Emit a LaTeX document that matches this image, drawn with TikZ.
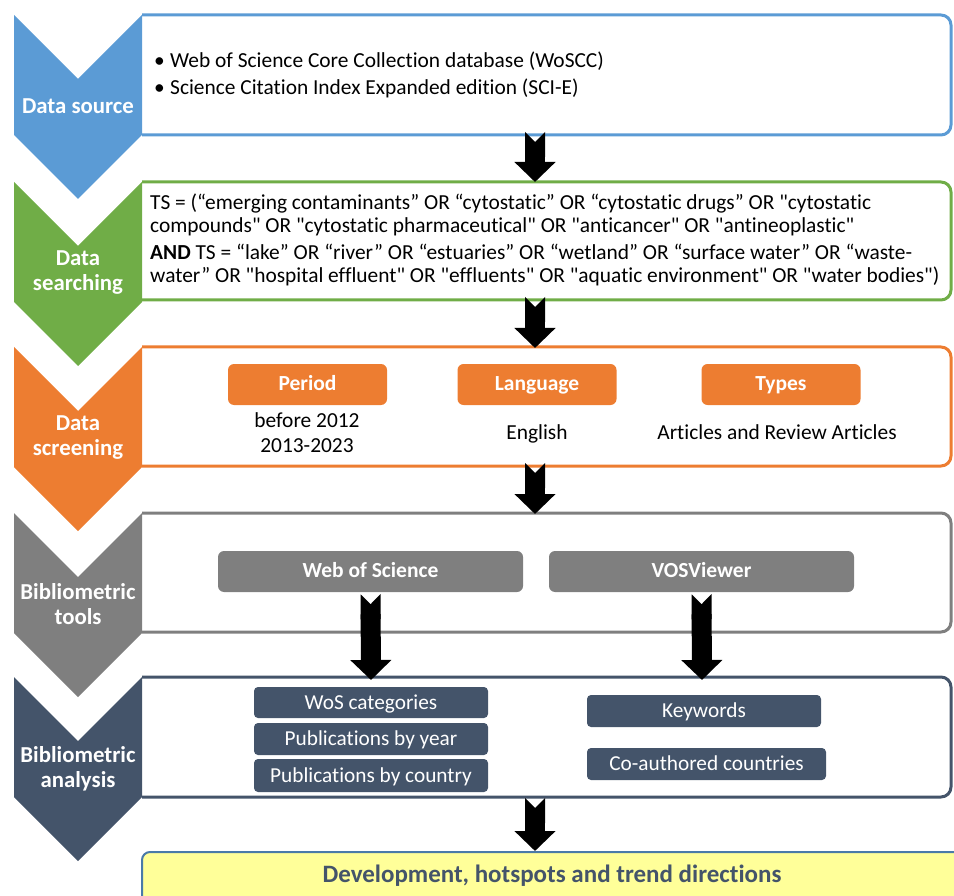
\documentclass[tikz,border=0pt]{standalone}
\usepackage{fontspec}
\setmainfont{Carlito}[Ligatures={TeXOff,CommonOff}]
\usetikzlibrary{arrows.meta, positioning}

\definecolor{srcblue}{HTML}{5B9BD5}
\definecolor{srchgreen}{HTML}{70AD47}
\definecolor{scrorange}{HTML}{ED7D31}
\definecolor{toolgray}{HTML}{7F7F7F}
\definecolor{anavy}{HTML}{44546A}
\definecolor{hotyellow}{HTML}{FFFF99}
\definecolor{edgeblue}{HTML}{4A7AA8}

\tikzset{
  stage/.style={draw=#1, line width=3pt, rounded corners=10pt},
  chevlabel/.style={text=white, align=center, inner sep=0pt,
    font=\fontsize{22.8}{25}\selectfont\bfseries},
  bodytext/.style={anchor=base west, inner sep=0pt,
    font=\fontsize{21.4}{23}\selectfont},
  undertext/.style={anchor=base, inner sep=0pt,
    font=\fontsize{21.4}{23}\selectfont},
  tagbox/.style={fill=#1, rounded corners=6pt, text=white, inner sep=0pt,
    text height=15pt, text depth=3pt, font=\fontsize{21.5}{23}\selectfont\bfseries},
  resultbox/.style={fill=anavy, rounded corners=4pt, text=white, inner sep=0pt,
    text height=15pt, text depth=2pt, font=\fontsize{21.3}{23}\selectfont},
  flow/.style={line width=20pt, {Triangle Cap[reversed]}-{Triangle[width=40pt,length=20pt]}}
}

\begin{document}
\begin{tikzpicture}[x=1pt, y=-1pt]
\useasboundingbox (0,0) rectangle (954,896);
\clip (0,0) rectangle (954,896);

% caixas das etapas
\draw[stage=srcblue]   (142,15)  -- (951,15)  -- (951,135) -- (142,135);
\draw[stage=srchgreen] (142,182) -- (951,182) -- (951,300) -- (142,300);
\draw[stage=scrorange] (142,347) -- (951,347) -- (951,466) -- (142,466);
\draw[stage=toolgray]  (142,513) -- (951,513) -- (951,632) -- (142,632);
\draw[stage=anavy]     (142,677) -- (951,677) -- (951,797) -- (142,797);

% chevrons
\fill[srcblue]   (14,15)  -- (78,79)  -- (142,15)  -- (142,135) -- (78,199) -- (14,135) -- cycle;
\fill[srchgreen] (14,182) -- (78,246) -- (142,182) -- (142,302) -- (78,366) -- (14,302) -- cycle;
\fill[scrorange] (14,347) -- (78,411) -- (142,347) -- (142,467) -- (78,531) -- (14,467) -- cycle;
\fill[toolgray]  (14,513) -- (78,577) -- (142,513) -- (142,633) -- (78,697) -- (14,633) -- cycle;
\fill[anavy]     (14,677) -- (78,741) -- (142,677) -- (142,797) -- (78,861) -- (14,797) -- cycle;

% rotulos dos chevrons
\node[chevlabel] (source)    at (78,106) {Data source};
\node[chevlabel] (searching) at (78,273) {Data\\searching};
\node[chevlabel] (screening) at (78,438) {Data\\screening};
\node[chevlabel] (tools)     at (78,604) {Bibliometric\\tools};
\node[chevlabel] (analysis)  at (78,769) {Bibliometric\\analysis};

% fonte dos dados
\node[bodytext] (bul1) at (154,68) {•};
\node[bodytext] (wos)  at (170,68) {Web of Science Core Collection database (WoSCC)};
\node[bodytext] (bul2) at (154,95) {•};
\node[bodytext] (scie) at (170,95) {Science Citation Index Expanded edition (SCI-E)};

% busca
\node[bodytext] (ts1) at (150,210) {TS = (“emerging contaminants” OR “cytostatic” OR “cytostatic drugs” OR "cytostatic};
\node[bodytext] (ts2) at (150,233) {compounds" OR "cytostatic pharmaceutical" OR "anticancer" OR "antineoplastic"};
\node[bodytext] (ts3) at (150,260) {\textbf{AND} TS = “lake” OR “river” OR “estuaries” OR “wetland” OR “surface water” OR “waste-};
\node[bodytext] (ts4) at (150,283) {water” OR "hospital effluent" OR "effluents" OR "aquatic environment" OR "water bodies")};

% triagem
\node[tagbox=scrorange, minimum width=159pt, minimum height=41pt] (period)   at (307.5,384.5) {Period};
\node[tagbox=scrorange, minimum width=159pt, minimum height=41pt] (language) at (537,384.5)   {Language};
\node[tagbox=scrorange, minimum width=159pt, minimum height=41pt] (types)    at (781,384.5)   {Types};
\node[undertext] (before)  at (307,427) {before 2012};
\node[undertext] (recent)  at (307,452) {2013-2023};
\node[undertext] (english) at (537,439) {English};
\node[undertext] (arts)    at (777,439) {Articles and Review Articles};

% ferramentas
\node[tagbox=toolgray, minimum width=305pt, minimum height=41pt] (wosapp) at (370.5,571.5) {Web of Science};
\node[tagbox=toolgray, minimum width=305pt, minimum height=41pt] (vos)    at (701.5,571.5) {VOSViewer};

% analises
\node[resultbox, minimum width=234pt, minimum height=31pt] (cats)    at (371,702.5) {WoS categories};
\node[resultbox, minimum width=234pt, minimum height=32pt] (year)    at (371,739)   {Publications by year};
\node[resultbox, minimum width=234pt, minimum height=33pt] (country) at (371,775.5) {Publications by country};
\node[resultbox, minimum width=234pt, minimum height=32pt] (keys)    at (704,711)   {Keywords};
\node[resultbox, minimum width=239pt, minimum height=32pt] (coauth)  at (706.5,764) {Co-authored countries};

% resultado final
\draw[fill=hotyellow, draw=edgeblue, line width=2pt, rounded corners=8pt] (142,852) rectangle (1000,950);
\node[anchor=base, inner sep=0pt, text=anavy, font=\fontsize{25}{28}\selectfont\bfseries] (trend) at (552,882)
  {Development, hotspots and trend directions};

% setas
\coordinate (f1a) at (535,132); \coordinate (f1b) at (535,182);
\coordinate (f2a) at (535,297); \coordinate (f2b) at (535,348);
\coordinate (f3a) at (535,463); \coordinate (f3b) at (535,514);
\coordinate (f4a) at (535,798); \coordinate (f4b) at (535,851);
\coordinate (wosin) at (371,680);
\coordinate (vosin) at (702,680);
\draw[flow] (f1a) -- (f1b);
\draw[flow] (f2a) -- (f2b);
\draw[flow] (f3a) -- (f3b);
\draw[flow] (f4a) -- (f4b);
\draw[flow] ([yshift=-2pt]wosapp.south) -- (wosin);
\draw[flow] ([yshift=-2pt]vos.south) -- (vosin);
\end{tikzpicture}
\end{document}
